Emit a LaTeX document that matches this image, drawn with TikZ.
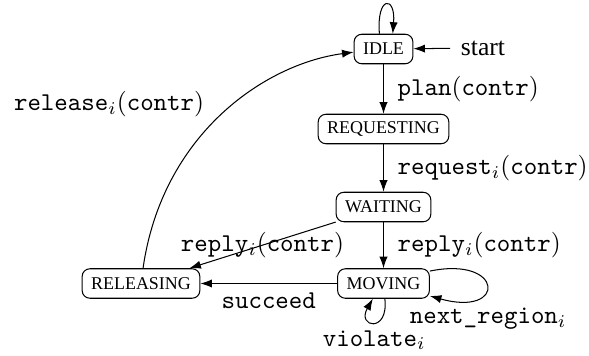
\documentclass[tikz,border=0pt]{standalone}
\usepackage[no-math]{fontspec}
\setmainfont{Liberation Serif}
\usetikzlibrary{arrows.meta}
\begin{document}
\begin{tikzpicture}[x=0.39pt,y=-0.39pt,
  state/.style={draw, rounded corners=3pt, font=\scriptsize,
    minimum height=11.5pt, inner xsep=3.5pt, inner ysep=2pt},
  trans/.style={-{Latex[length=4.5pt,width=3.2pt]}},
  lbl/.style={font=\normalsize}]
\useasboundingbox (0,0) rectangle (589,356);

% states
\node[state] (idle) at (383.5,49)  {IDLE};
\node[state] (req)  at (383.5,129) {REQUESTING};
\node[state] (wait) at (383.5,207) {WAITING};
\node[state] (mov)  at (383.5,283.5) {MOVING};
\node[state] (rel)  at (141,283.5)   {RELEASING};
\node[inner sep=4pt] (start) at (483,48) {start};

% initial arrow
\draw[trans] (start) -- (idle);

% self loop on IDLE
\draw[trans] ([xshift=-1.6pt]idle.north) .. controls +(-1.2pt,15pt) and +(1.2pt,15pt) .. ([xshift=3.6pt]idle.north);

% main chain
\draw[trans] (idle) -- node[lbl, right=2pt] {\texttt{plan}$($\texttt{contr}$)$} (req);
\draw[trans] (req) -- node[lbl, right=2pt] {\texttt{request}$_i($\texttt{contr}$)$} (wait);
\draw[trans] (wait) -- node[lbl, right=2pt] {\texttt{reply}$_i($\texttt{contr}$)$} (mov);
\draw[trans] (wait) -- node[lbl] {\texttt{reply}$_i($\texttt{contr}$)$} (rel);
\draw[trans] (mov) -- node[lbl, below] {\texttt{succeed}} (rel);

% loops on MOVING
\draw[trans] (mov.15) .. controls +(29pt,6pt) and +(30pt,-8.4pt) .. (mov.-15)
  node[lbl, pos=0.5, below=5pt, xshift=0.6pt] {\texttt{next\_region}$_i$};
\draw[trans] (mov.-85) .. controls +(1.6pt,-13.6pt) and +(-6.4pt,-11.2pt) .. (mov.-125)
  node[lbl, pos=0.5, below=-0.5pt] {\texttt{violate}$_i$};

% back to IDLE
\draw[trans] ([xshift=0.8pt]rel.north) .. controls +(7.4pt,51.9pt) and +(-35.1pt,-4.7pt) .. (idle.186)
  node[lbl, pos=0.55, left=8pt] {\texttt{release}$_i($\texttt{contr}$)$};
\end{tikzpicture}
\end{document}
